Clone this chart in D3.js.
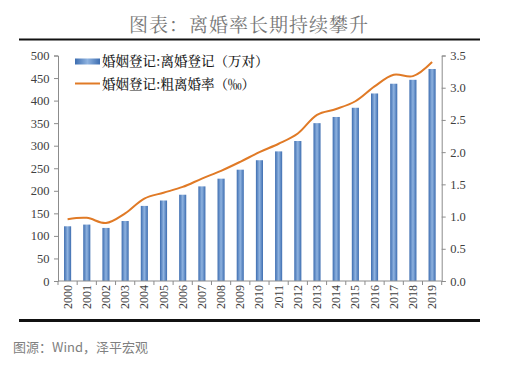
<!DOCTYPE html>
<html><head><meta charset="utf-8">
<script src="https://cdn.jsdelivr.net/npm/d3@7"></script>
<style>body{margin:0;background:#fff}</style>
</head><body>
<svg id="c" width="521" height="368"></svg>
<script>
const years = ["2000","2001","2002","2003","2004","2005","2006","2007","2008","2009","2010","2011","2012","2013","2014","2015","2016","2017","2018","2019"];
const divorces = [121.3,125.1,117.7,133.0,166.5,178.5,191.3,209.8,226.9,246.8,267.8,287.4,310.4,350.0,363.7,384.1,415.8,437.4,446.1,470.1];
const rates = [0.96,0.98,0.90,1.05,1.28,1.37,1.46,1.59,1.71,1.85,2.00,2.13,2.29,2.58,2.67,2.79,3.02,3.20,3.18,3.40];
const leftTicks = [0,50,100,150,200,250,300,350,400,450,500];
const rightTicks = [0,0.5,1.0,1.5,2.0,2.5,3.0,3.5];
const titleText = "图表：离婚率长期持续攀升";
const legendLabels = ["婚姻登记:离婚登记（万对）","婚姻登记:粗离婚率（‰）"];
const sourceText = "图源：Wind，泽平宏观";

const svg = d3.select("#c");
const L = 58, R = 441.7, T = 55.5, B = 281;
const x = d3.scaleBand().domain(years).range([L, R]).paddingInner(0.63).paddingOuter(0.315);
const yL = d3.scaleLinear().domain([0,500]).range([B,T]);
const yR = d3.scaleLinear().domain([0,3.5]).range([B,T]);

const defs = svg.append("defs");
const g = defs.append("linearGradient").attr("id","bg").attr("x1","0").attr("x2","1").attr("y1","0").attr("y2","0");
g.append("stop").attr("offset","0%").attr("stop-color","#3d6db0");
g.append("stop").attr("offset","50%").attr("stop-color","#8fb3e0");
g.append("stop").attr("offset","100%").attr("stop-color","#3d6db0");

// title
svg.append("text").attr("x",249).attr("y",32).attr("text-anchor","middle")
  .attr("font-family","'Noto Serif CJK SC','Noto Sans CJK SC',serif").attr("font-size",19)
  .attr("fill","#777").attr("letter-spacing",1).text(titleText);
svg.append("line").attr("x1",19).attr("x2",480).attr("y1",39.5).attr("y2",39.5).attr("stroke","#111").attr("stroke-width",1.8);
svg.append("line").attr("x1",19).attr("x2",480).attr("y1",320.5).attr("y2",320.5).attr("stroke","#111").attr("stroke-width",3.2);

// bars
svg.append("g").selectAll("rect").data(years).join("rect")
  .attr("x",d=>x(d)).attr("width",x.bandwidth())
  .attr("y",(d,i)=>yL(divorces[i])).attr("height",(d,i)=>B-yL(divorces[i]))
  .attr("fill","url(#bg)");

// line
const line = d3.line().x((d,i)=>x(years[i])+x.bandwidth()/2).y(d=>yR(d)).curve(d3.curveCatmullRom.alpha(0.5));
svg.append("path").datum(rates).attr("d",line).attr("fill","none").attr("stroke","#e07a26").attr("stroke-width",2);

// axes
const axisColor = "#8c8c8c";
const fontSerif = "'Liberation Serif','Times New Roman',serif";
const la = svg.append("g").attr("transform",`translate(${L},0)`)
  .call(d3.axisLeft(yL).tickValues(leftTicks).tickSize(4).tickFormat(d3.format("d")));
const ra = svg.append("g").attr("transform",`translate(${R},0)`)
  .call(d3.axisRight(yR).tickValues(rightTicks).tickSize(4).tickFormat(d3.format(".1f")));
[la,ra].forEach(a=>{
  a.select(".domain").attr("stroke",axisColor);
  a.selectAll(".tick line").attr("stroke",axisColor);
  a.selectAll("text").attr("font-family",fontSerif).attr("font-size",12.5).attr("fill","#404040");
});
la.selectAll("text").attr("x",-8.5);
ra.selectAll("text").attr("x",8.5);

// x axis
const xa = svg.append("g");
xa.append("line").attr("x1",L).attr("x2",R).attr("y1",B).attr("y2",B).attr("stroke",axisColor);
xa.selectAll("line.tk").data(d3.range(years.length+1)).join("line").attr("class","tk")
  .attr("x1",i=>L+i*(R-L)/years.length).attr("x2",i=>L+i*(R-L)/years.length)
  .attr("y1",B).attr("y2",B+4).attr("stroke",axisColor);
xa.selectAll("text").data(years).join("text")
  .attr("transform",d=>`translate(${x(d)+x.bandwidth()/2+4},${B+4}) rotate(-90)`)
  .attr("text-anchor","end").attr("font-family",fontSerif).attr("font-size",12).attr("fill","#404040").text(d=>d);

// legend
const lg = svg.append("g");
lg.append("rect").attr("x",75).attr("y",58.5).attr("width",25).attr("height",6).attr("fill","url(#bg)");
lg.append("line").attr("x1",75).attr("x2",100).attr("y1",83.5).attr("y2",83.5).attr("stroke","#e07a26").attr("stroke-width",2);
lg.selectAll("text").data(legendLabels).join("text")
  .attr("x",102).attr("y",(d,i)=>65.5+i*23.5)
  .attr("font-family","'Noto Serif CJK SC','Noto Sans CJK SC',serif").attr("font-size",13.5).attr("font-weight","500")
  .attr("fill","#1a1a1a").text(d=>d);

// source
svg.append("text").attr("x",13).attr("y",352).attr("font-family","'Noto Sans CJK SC',sans-serif")
  .attr("font-size",13).attr("fill","#808080").text(sourceText);
</script>
</body></html>
